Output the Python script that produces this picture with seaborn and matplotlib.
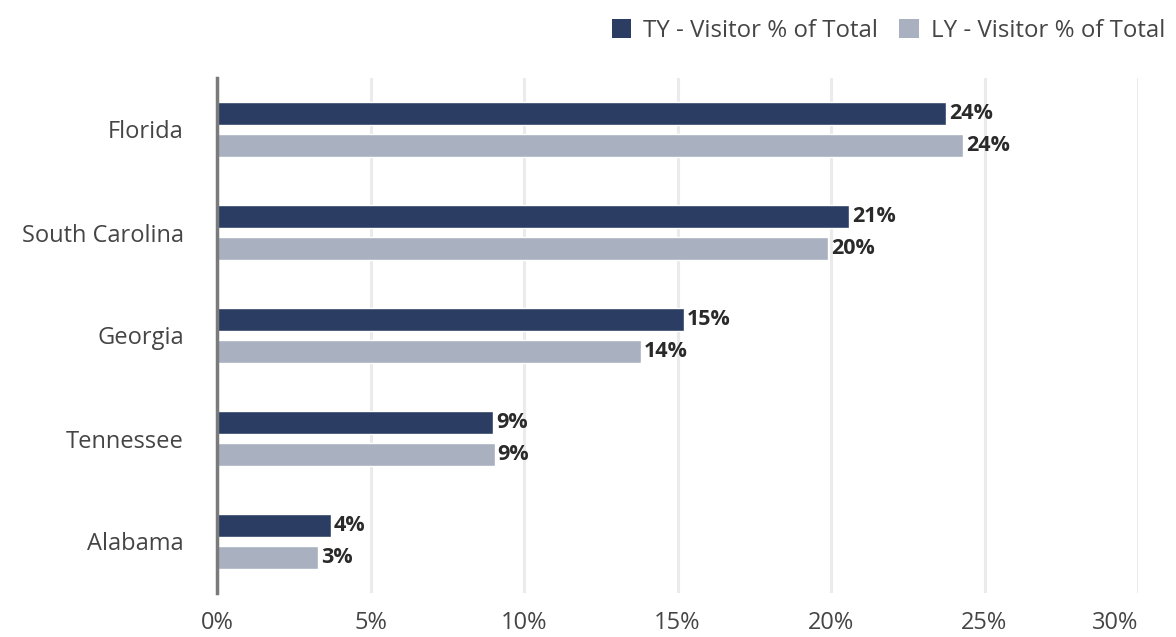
import matplotlib
matplotlib.use("Agg")
import matplotlib.pyplot as plt
from matplotlib.patches import Patch
import seaborn as sns
import pandas as pd

# Visitor share by state, this year vs last year (percent of total)
states = ["Florida", "South Carolina", "Georgia", "Tennessee", "Alabama"]
ty_share = [23.75, 20.6, 15.2, 9.0, 3.7]
ly_share = [24.3, 19.9, 13.8, 9.05, 3.3]
series_names = ["TY - Visitor % of Total", "LY - Visitor % of Total"]
x_ticks = [0, 5, 10, 15, 20, 25, 30]
x_tick_labels = ["0%", "5%", "10%", "15%", "20%", "25%", "30%"]

df = pd.DataFrame({
    "State": states * 2,
    "Share": ty_share + ly_share,
    "Series": [series_names[0]] * len(states) + [series_names[1]] * len(states),
})

sns.set_theme(style="white")
plt.rcParams["font.family"] = ["Open Sans", "DejaVu Sans"]

W, H = 1176, 637
fig, ax = plt.subplots(figsize=(W / 100, H / 100), dpi=100)
fig.subplots_adjust(left=217 / W, right=1138 / W, top=1 - 78 / H, bottom=1 - 593 / H)

palette = {series_names[0]: "#2B3D63", series_names[1]: "#A9B1C0"}
sns.barplot(data=df, y="State", x="Share", hue="Series", order=states,
            hue_order=series_names, palette=palette, orient="h",
            width=0.62, gap=0.28, saturation=1, ax=ax, legend=False)

for cont in ax.containers:
    ax.bar_label(cont, fmt="{:.0f}%", padding=2, fontsize=15.5,
                 fontweight="bold", color="#2A2A2A")

ax.set_xlim(0, 30)
ax.set_ylim(4.5, -0.5)
ax.set_xticks(x_ticks)
ax.set_xticklabels(x_tick_labels)
# keep the last tick label inside the plotting area
ax.get_xticklabels()[-1].set_horizontalalignment("right")
ax.set_xlabel("")
ax.set_ylabel("")
ax.grid(axis="x", color="#EBEBEB", linewidth=2.2)
ax.grid(axis="y", visible=False)
ax.set_axisbelow(True)
for side in ["top", "right", "bottom"]:
    ax.spines[side].set_visible(False)
ax.spines["left"].set_color("#7A7A7A")
ax.spines["left"].set_linewidth(2.5)
ax.spines["left"].set_zorder(5)
ax.tick_params(axis="y", length=0, pad=24, labelsize=17, labelcolor="#454545")
ax.tick_params(axis="x", length=0, pad=13, labelsize=17, labelcolor="#454545")

handles = [Patch(facecolor=palette[s], edgecolor="none", label=s) for s in series_names]
fig.legend(handles=handles, loc="center right", bbox_to_anchor=(1165 / W, 1 - 31 / H),
           ncol=2, frameon=False, fontsize=17.3, handlelength=0.8, handleheight=0.8,
           handletextpad=0.5, columnspacing=0.87, borderpad=0, borderaxespad=0,
           labelcolor="#454545")

fig.savefig("out.png", dpi=100)
